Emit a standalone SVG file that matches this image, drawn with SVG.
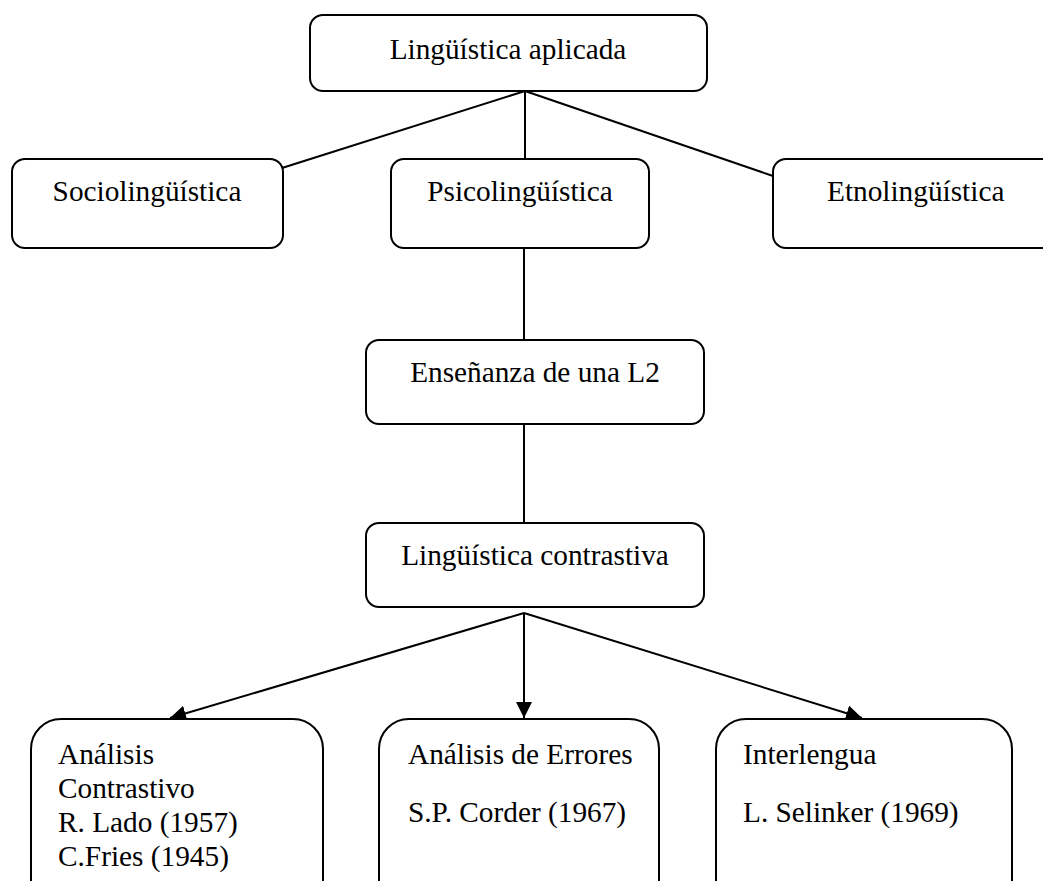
<svg xmlns="http://www.w3.org/2000/svg" width="1043" height="881" viewBox="0 0 1043 881">
<style>
.box{fill:#fff;stroke:#000;stroke-width:2}
.t{font-family:"Liberation Serif","Times New Roman",serif;font-size:29.3px;fill:#000}
.m{text-anchor:middle}
.c{stroke:#000;stroke-width:2;fill:none}
</style>
<defs>
<marker id="ah" viewBox="0 0 10 10" refX="10" refY="5" markerWidth="8" markerHeight="8" markerUnits="strokeWidth" orient="auto">
<path d="M0,0 L10,5 L0,10 z" fill="#000"/>
</marker>
</defs>
<g id="connectors">
<line class="c" x1="525" y1="91" x2="282" y2="168"/>
<line class="c" x1="525" y1="91" x2="525" y2="159"/>
<line class="c" x1="525" y1="91" x2="773" y2="176"/>
<line class="c" x1="524" y1="248" x2="524" y2="340"/>
<line class="c" x1="524" y1="424" x2="524" y2="523"/>
<line class="c" x1="524" y1="613" x2="170" y2="718" marker-end="url(#ah)"/>
<line class="c" x1="524" y1="613" x2="524" y2="718" marker-end="url(#ah)"/>
<line class="c" x1="524" y1="613" x2="862" y2="718" marker-end="url(#ah)"/>
</g>
<g id="n-aplicada">
<rect class="box" x="310" y="15" width="397" height="76" rx="13"/>
<text class="t m" x="508" y="59">Lingüística aplicada</text>
</g>
<g id="n-socio">
<rect class="box" x="12" y="159" width="271" height="89" rx="13"/>
<text class="t m" x="147" y="201">Sociolingüística</text>
</g>
<g id="n-psico">
<rect class="box" x="391" y="159" width="258" height="89" rx="13"/>
<text class="t m" x="520" y="201">Psicolingüística</text>
</g>
<g id="n-etno">
<rect class="box" x="773" y="159" width="290" height="89" rx="13"/>
<text class="t" x="827" y="201">Etnolingüística</text>
</g>
<g id="n-ensenanza">
<rect class="box" x="366" y="340" width="338" height="84" rx="13"/>
<text class="t m" x="535" y="382">Enseñanza de una L2</text>
</g>
<g id="n-contrastiva">
<rect class="box" x="366" y="523" width="338" height="84" rx="13"/>
<text class="t m" x="535" y="565">Lingüística contrastiva</text>
</g>
<g id="n-ac">
<rect class="box" x="31" y="719" width="292" height="200" rx="30"/>
<text class="t" x="58" y="764">Análisis</text>
<text class="t" x="58" y="798">Contrastivo</text>
<text class="t" x="58" y="832">R. Lado (1957)</text>
<text class="t" x="58" y="866">C.Fries (1945)</text>
</g>
<g id="n-ae">
<rect class="box" x="379" y="719" width="280" height="200" rx="30"/>
<text class="t" x="408" y="764">Análisis de Errores</text>
<text class="t" x="408" y="822">S.P. Corder (1967)</text>
</g>
<g id="n-il">
<rect class="box" x="716" y="719" width="296" height="200" rx="30"/>
<text class="t" x="743" y="764">Interlengua</text>
<text class="t" x="743" y="822">L. Selinker (1969)</text>
</g>
</svg>
